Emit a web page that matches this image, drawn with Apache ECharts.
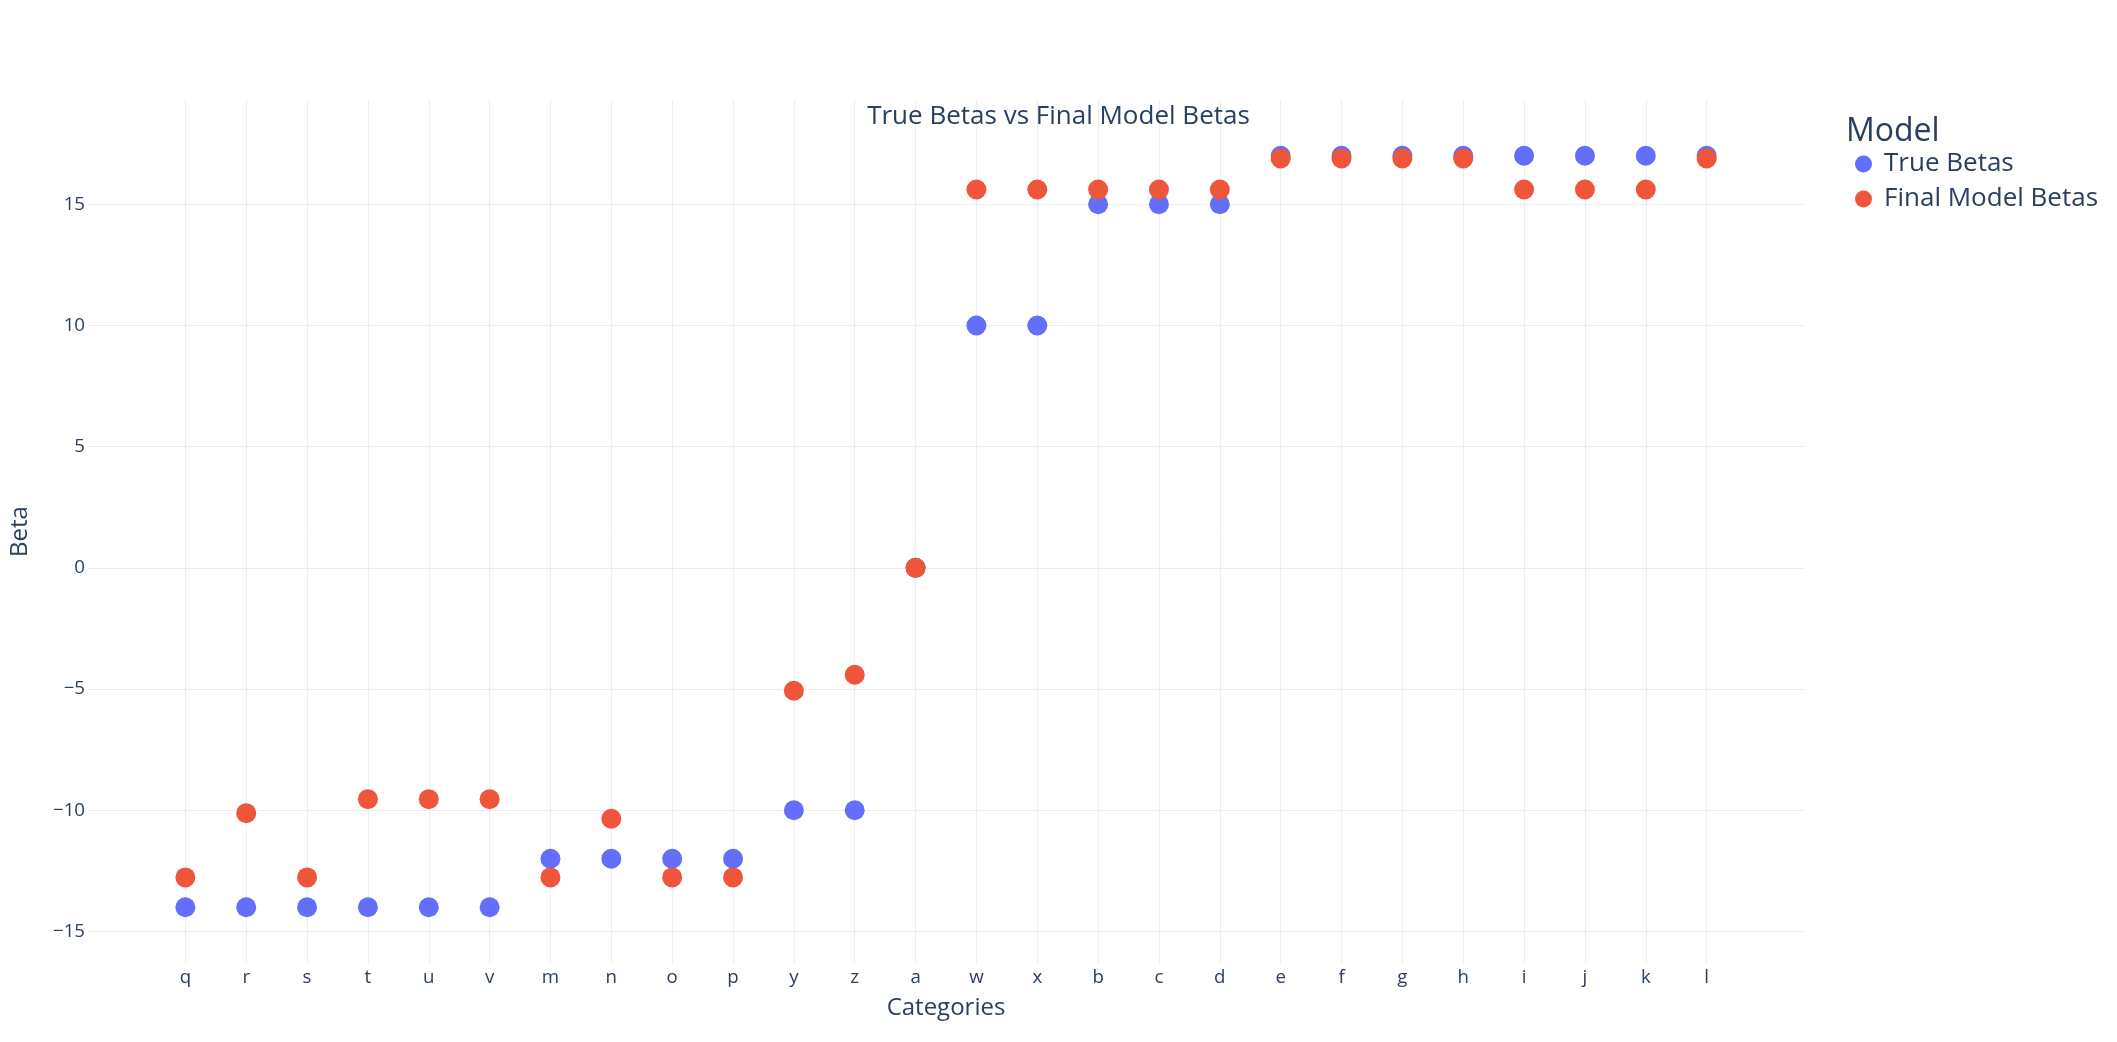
<!DOCTYPE html>
<html lang="en">

<head>
  <meta charset="UTF-8">
  <title>True Betas vs Final Model Betas</title>
  <script src="https://cdn.jsdelivr.net/npm/echarts@6.0.0/dist/echarts.min.js"></script>
  <style>
    html, body { margin: 0; padding: 0; background: #fff; }
    #main { position: absolute; left: 0; right: 0; top: 0; bottom: 0; }
  </style>
</head>

<body>
  <div id="main"></div>
  <script>
    // values
    var categories = ['q', 'r', 's', 't', 'u', 'v', 'm', 'n', 'o', 'p', 'y', 'z', 'a',
      'w', 'x', 'b', 'c', 'd', 'e', 'f', 'g', 'h', 'i', 'j', 'k', 'l']
    var trueBetas = [-14, -14, -14, -14, -14, -14, -12, -12, -12, -12, -10, -10, 0,
      10, 10, 15, 15, 15, 17, 17, 17, 17, 17, 17, 17, 17]
    var finalBetas = [-12.77, -10.12, -12.77, -9.54, -9.54, -9.54, -12.77, -10.35, -12.77, -12.77, -5.07, -4.41, 0,
      15.61, 15.61, 15.61, 15.61, 15.61, 16.89, 16.89, 16.89, 16.89, 15.61, 15.61, 15.61, 16.89]
    var yTicks = [-15, -10, -5, 0, 5, 10, 15]

    var textColor = '#2a3f5f'
    var gridColor = '#ebedf0'
    var font = '"Open Sans", verdana, arial, sans-serif'
    var xTicks = categories.map((c, i) => i)

    var myChart = echarts.init(document.getElementById('main'))
    var option = {
      animation: false,
      textStyle: { fontFamily: font },
      title: [
        {
          text: 'True Betas vs Final Model Betas',
          left: 'center',
          top: 99,
          textStyle: { color: textColor, fontSize: 26, fontWeight: 'normal', fontFamily: font }
        },
        {
          text: 'Model',
          left: 1841,
          top: 111,
          textStyle: { color: textColor, fontSize: 32, fontWeight: 'normal', fontFamily: font }
        }
      ],
      legend: {
        orient: 'vertical',
        left: 1850,
        top: 146,
        icon: 'circle',
        itemWidth: 17,
        itemHeight: 17,
        itemGap: 9,
        textStyle: { color: textColor, fontSize: 26, lineHeight: 26, fontFamily: font, padding: [0, 0, 0, 7] }
      },
      grid: {
        left: 80,
        right: 313,
        top: 100,
        bottom: 79
      },
      xAxis: {
        type: 'value',
        min: -1.6,
        max: 26.6,
        name: 'Categories',
        nameLocation: 'middle',
        nameGap: 33,
        nameTextStyle: { color: textColor, fontSize: 24, fontFamily: font },
        axisLine: { show: false },
        axisTick: { show: false, customValues: xTicks },
        axisLabel: {
          customValues: xTicks,
          margin: 5,
          color: textColor,
          fontSize: 18.7,
          fontFamily: font,
          formatter: v => categories[Math.round(v)]
        },
        splitLine: { lineStyle: { color: gridColor, width: 1 } }
      },
      yAxis: {
        type: 'value',
        min: -16.3,
        max: 19.3,
        name: 'Beta',
        nameLocation: 'middle',
        nameGap: 56,
        nameTextStyle: { color: textColor, fontSize: 24, fontFamily: font },
        axisLine: { show: false },
        axisTick: { show: false, customValues: yTicks },
        axisLabel: {
          customValues: yTicks,
          margin: 3,
          color: textColor,
          fontSize: 18.7,
          fontFamily: font,
          formatter: v => String(v).replace('-', '\u2212')
        },
        splitLine: { lineStyle: { color: gridColor, width: 1 } }
      },
      series: [
        {
          name: 'True Betas',
          type: 'scatter',
          data: trueBetas.map((v, i) => [i, v]),
          symbol: 'circle',
          symbolSize: 20,
          itemStyle: { color: '#636efa', opacity: 1 },
          emphasis: { disabled: true }
        },
        {
          name: 'Final Model Betas',
          type: 'scatter',
          data: finalBetas.map((v, i) => [i, v]),
          symbol: 'circle',
          symbolSize: 20,
          itemStyle: { color: '#EF553B', opacity: 1 },
          emphasis: { disabled: true }
        }
      ]
    }
    myChart.setOption(option)
  </script>
</body>

</html>
